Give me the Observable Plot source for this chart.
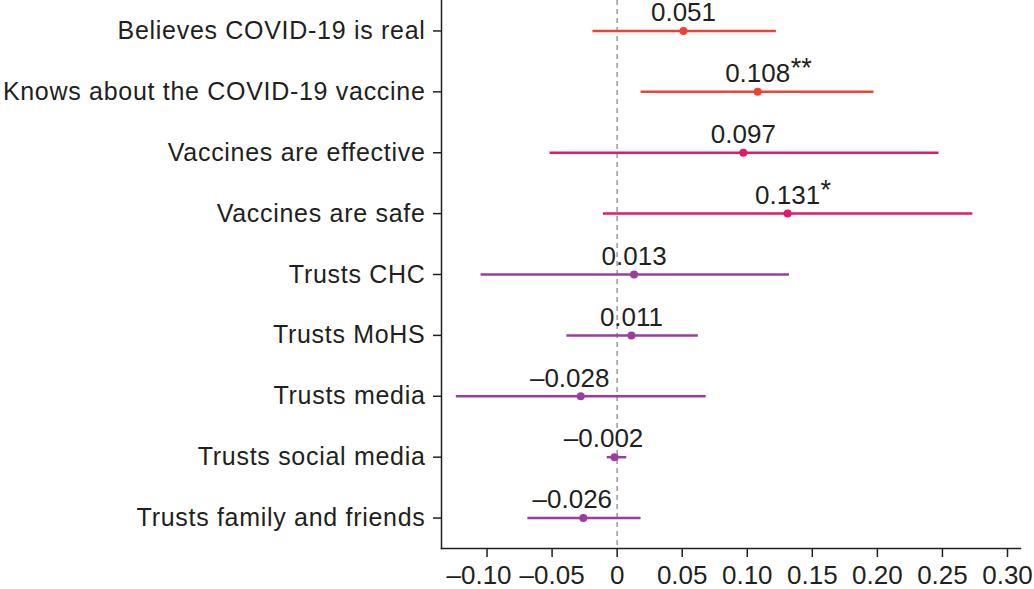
<!DOCTYPE html>
<html>
<head>
<meta charset="utf-8">
<script src="https://cdn.jsdelivr.net/npm/d3@7"></script>
<script src="https://cdn.jsdelivr.net/npm/@observablehq/plot@0.6"></script>
<style>
  html, body { margin: 0; padding: 0; background: #fff; }
  #chart svg { display: block; }
  #chart svg g[aria-label="y-axis tick label"] text { letter-spacing: 0.7px; }
</style>
</head>
<body>
<div id="chart"></div>
<script>
const categories = [
  "Believes COVID-19 is real",
  "Knows about the COVID-19 vaccine",
  "Vaccines are effective",
  "Vaccines are safe",
  "Trusts CHC",
  "Trusts MoHS",
  "Trusts media",
  "Trusts social media",
  "Trusts family and friends"
];
const estimates = [0.051, 0.108, 0.097, 0.131, 0.013, 0.011, -0.028, -0.002, -0.026];
const lower = [-0.019, 0.018, -0.052, -0.011, -0.105, -0.039, -0.124, -0.008, -0.069];
const upper = [0.122, 0.197, 0.247, 0.273, 0.132, 0.062, 0.068, 0.007, 0.018];
const valueLabels = ["0.051", "0.108", "0.097", "0.131", "0.013", "0.011", "–0.028", "–0.002", "–0.026"];
const stars = ["", "**", "", "*", "", "", "", "", ""];
const groups = ["knowledge", "knowledge", "belief", "belief", "trust", "trust", "trust", "trust", "trust"];
const groupNames = ["knowledge", "belief", "trust"];
const groupColors = ["#ef4136", "#e5186b", "#983f9e"];
const xTicks = [-0.10, -0.05, 0, 0.05, 0.10, 0.15, 0.20, 0.25, 0.30];
const xTickLabels = ["–0.10", "–0.05", "0", "0.05", "0.10", "0.15", "0.20", "0.25", "0.30"];

const MINUS = "–";
const rows = categories.map((c, i) => ({
  cat: c, est: estimates[i], lo: lower[i], hi: upper[i],
  label: valueLabels[i], neg: valueLabels[i].startsWith(MINUS),
  stars: stars[i], group: groups[i]
}));
const fmt = (d) => xTickLabels[xTicks.findIndex((t) => Math.abs(t - d) < 1e-9)];
const firstTick = xTicks.slice(0, 1);
const otherTicks = xTicks.slice(1);

const font = "Liberation Sans, Arial, Helvetica, sans-serif";
const ink = "#231f20";
const labelOpts = { tickFormat: fmt, tickSize: 0, tickPadding: 17, fontSize: 26, label: null };

const chart = Plot.plot({
  width: 1034,
  height: 589,
  marginLeft: 441,
  marginRight: 14,
  marginTop: 0,
  marginBottom: 41,
  style: { fontFamily: font, fontSize: "25px", color: ink, background: "#fff" },
  x: { domain: [-0.135, 0.31] },
  y: { domain: categories, padding: 0.5, round: false },
  color: { domain: groupNames, range: groupColors },
  marks: [
    Plot.ruleX([0], { stroke: "#999", strokeWidth: 1.5, strokeDasharray: "5,4" }),
    Plot.frame({ anchor: "left", stroke: ink, strokeWidth: 1.5 }),
    Plot.frame({ anchor: "bottom", stroke: ink, strokeWidth: 1.5 }),
    Plot.axisY({ tickSize: 8, tickPadding: 8, fontSize: 25, label: null, stroke: ink, strokeWidth: 1.5 }),
    // tick marks
    Plot.axisX({ ticks: xTicks, tickFormat: () => "", tickSize: 9, label: null, stroke: ink, strokeWidth: 1.5 }),
    // tick labels (the first one nudged left as in the original)
    Plot.axisX({ ...labelOpts, ticks: firstTick, dx: -8 }),
    Plot.axisX({ ...labelOpts, ticks: otherTicks }),
    Plot.link(rows, { x1: "lo", x2: "hi", y1: "cat", y2: "cat", stroke: "group", strokeWidth: 2.5 }),
    Plot.dot(rows, { x: "est", y: "cat", fill: "group", r: 4 }),
    Plot.text(rows.filter((d) => !d.neg), { x: "est", y: "cat", text: "label", dy: -18, fontSize: 26, fill: ink }),
    Plot.text(rows.filter((d) => d.neg), { x: "est", y: "cat", text: "label", dx: -11, dy: -18, fontSize: 26, fill: ink }),
    Plot.text(rows, { x: "est", y: "cat", text: "stars", dy: -23, dx: 33, textAnchor: "start", fontSize: 27, fill: ink })
  ]
});

document.getElementById("chart").appendChild(chart);
</script>
</body>
</html>
